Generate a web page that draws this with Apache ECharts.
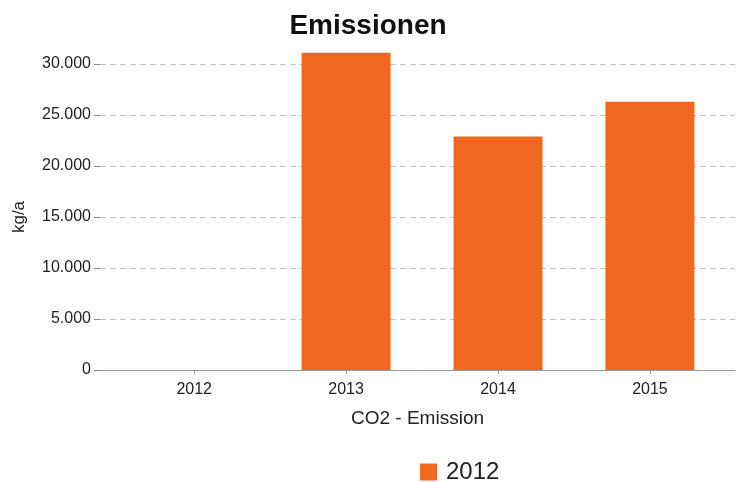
<!DOCTYPE html>
<html>
<head>
<meta charset="utf-8">
<script src="https://cdn.jsdelivr.net/npm/echarts@6/dist/echarts.min.js"></script>
<style>
html,body{margin:0;padding:0;background:#fff;}
#chart{width:736px;height:482px;}
</style>
</head>
<body>
<div id="chart"></div>
<script>
var categories = ['2012', '2013', '2014', '2015'];
var values = [null, 31100, 22900, 26300];
var seriesName = '2012';
var yTicks = [0, 5000, 10000, 15000, 20000, 25000, 30000];

var years = categories.map(Number);
var barData = categories.map(function (c, i) { return [Number(c), values[i]]; });

function fmt(v) {
  return String(v).replace(/\B(?=(\d{3})+(?!\d))/g, '.');
}

var chart = echarts.init(document.getElementById('chart'));
chart.setOption({
  animation: false,
  backgroundColor: '#fff',
  title: {
    text: 'Emissionen',
    left: 'center',
    top: 7,
    textStyle: { fontFamily: 'Liberation Sans', fontWeight: 'bold', fontSize: 28, color: '#111' }
  },
  legend: {
    data: [seriesName],
    left: 415,
    top: 455,
    icon: 'rect',
    itemWidth: 17,
    itemHeight: 17,
    itemGap: 10,
    textStyle: { fontFamily: 'Liberation Sans', fontSize: 24, color: '#222', padding: [0, 0, 0, 4] }
  },
  grid: { left: 100, right: 1, top: 64, bottom: 112, containLabel: false },
  xAxis: {
    type: 'value',
    min: 2011.38,
    max: 2015.56,
    name: 'CO2 - Emission',
    nameLocation: 'middle',
    nameGap: 39,
    nameTextStyle: { fontFamily: 'Liberation Sans', fontSize: 19, color: '#222' },
    axisLine: { show: true, lineStyle: { color: '#999' } },
    axisTick: { show: true, length: 4, customValues: years, lineStyle: { color: '#999' } },
    axisLabel: {
      customValues: years,
      margin: 12,
      fontFamily: 'Liberation Sans',
      fontSize: 16,
      color: '#222',
      formatter: function (v) { return String(v); }
    },
    splitLine: { show: false }
  },
  yAxis: {
    type: 'value',
    min: 0,
    max: 30000,
    interval: 5000,
    name: 'kg/a',
    nameLocation: 'middle',
    nameGap: 72,
    nameTextStyle: { fontFamily: 'Liberation Sans', fontSize: 17, color: '#222' },
    axisLine: { show: false },
    axisTick: { show: true, length: 6, lineStyle: { color: '#888' } },
    axisLabel: {
      margin: 9,
      fontFamily: 'Liberation Sans',
      fontSize: 16,
      color: '#222',
      formatter: function (v) { return fmt(v); }
    },
    splitLine: { show: true, lineStyle: { color: '#c4c4c4', type: [6, 4] } }
  },
  series: [{
    name: seriesName,
    type: 'bar',
    data: barData,
    barWidth: 89,
    clip: false,
    itemStyle: { color: '#F0671F' }
  }]
});
</script>
</body>
</html>
